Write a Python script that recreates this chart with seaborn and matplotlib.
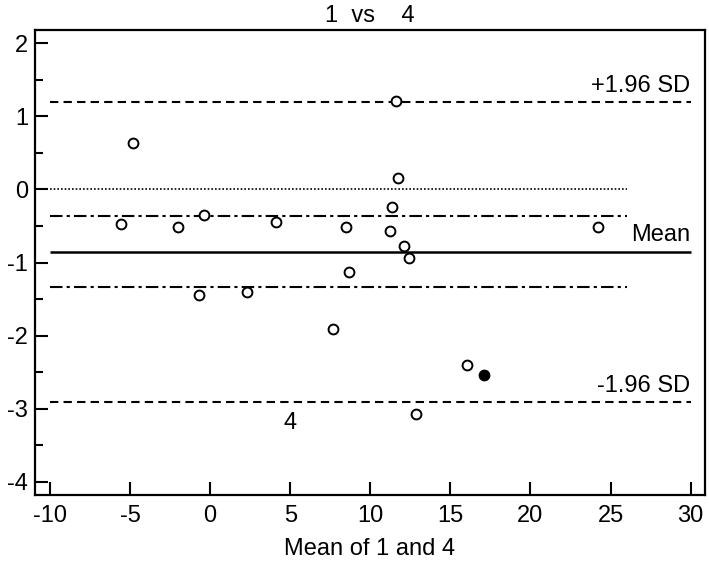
import numpy as np
import pandas as pd
import matplotlib
matplotlib.use("Agg")
import matplotlib.pyplot as plt
import seaborn as sns
from matplotlib.ticker import MultipleLocator

# --- data ---
mean_x = [-4.79, -5.58, -1.98, -0.38, 4.12, 8.50, 8.69, -0.69, 2.31, 7.67,
          11.62, 11.71, 11.38, 11.25, 12.08, 12.40, 24.20, 16.04, 12.88]
diff_y = [0.64, -0.48, -0.52, -0.35, -0.44, -0.52, -1.13, -1.44, -1.41, -1.91,
          1.21, 0.16, -0.24, -0.57, -0.77, -0.94, -0.52, -2.40, -3.07]
flag_x = [17.12]
flag_y = [-2.54]

mean_diff = -0.85
upper_loa = 1.20
lower_loa = -2.91
ci_mean = [-0.36, -1.34]
limit_labels = ["+1.96 SD", "Mean", "-1.96 SD"]

sns.set_style("ticks", {"text.color": "black", "axes.edgecolor": "black",
                        "xtick.color": "black", "ytick.color": "black",
                        "axes.labelcolor": "black"})
plt.rcParams["font.family"] = ["Liberation Sans", "DejaVu Sans"]
plt.rcParams["axes.unicode_minus"] = False
FS = 17

fig = plt.figure(figsize=(7.09, 5.62), dpi=100)
ax = fig.add_axes([35 / 709, 67 / 562, 670 / 709, 465 / 562])

df = pd.DataFrame({"x": mean_x, "y": diff_y})
df_flag = pd.DataFrame({"x": flag_x, "y": flag_y})

# reference lines
ax.hlines(0, -10, 26, colors="black", linestyles=(0, (1, 1.2)), lw=1.2)
ax.hlines(ci_mean, -10, 26, colors="black", linestyles=(0, (6, 2, 1.5, 2)), lw=1.5)
ax.hlines(mean_diff, -10, 30, colors="black", linestyles="-", lw=1.8)
ax.hlines([upper_loa, lower_loa], -10, 30, colors="black", linestyles=(0, (4, 2.5)), lw=1.5)

sns.scatterplot(data=df, x="x", y="y", ax=ax, s=50, facecolor="white",
                edgecolor="black", linewidth=1.4, zorder=3)
sns.scatterplot(data=df_flag, x="x", y="y", ax=ax, s=50, color="black",
                edgecolor="black", linewidth=1.4, zorder=3)

for lab, yv in zip(limit_labels, [upper_loa, mean_diff, lower_loa]):
    ax.text(30, yv + 0.07, lab, ha="right", va="bottom", fontsize=FS)
ax.text(5, -3.2, "4", ha="center", va="center", fontsize=FS)

ax.set_xlim(-10.94, 30.9)
ax.set_ylim(-4.18, 2.18)
ax.xaxis.set_major_locator(MultipleLocator(5))
ax.yaxis.set_major_locator(MultipleLocator(1))
ax.yaxis.set_minor_locator(MultipleLocator(0.5))
ax.tick_params(axis="both", which="major", direction="in", length=9.5, width=1.5,
               labelsize=FS, color="black")
ax.tick_params(axis="y", which="minor", direction="in", length=6, width=1.5)
ax.tick_params(axis="x", pad=7)
ax.tick_params(axis="y", pad=5)
for sp in ax.spines.values():
    sp.set_linewidth(1.6)
    sp.set_color("black")
    sp.set_visible(True)

ax.set_xlabel("Mean of 1 and 4", fontsize=FS, labelpad=8)
ax.set_ylabel("")
ax.set_title("1  vs    4", fontsize=FS, pad=6)

fig.savefig("out.png", dpi=100)
